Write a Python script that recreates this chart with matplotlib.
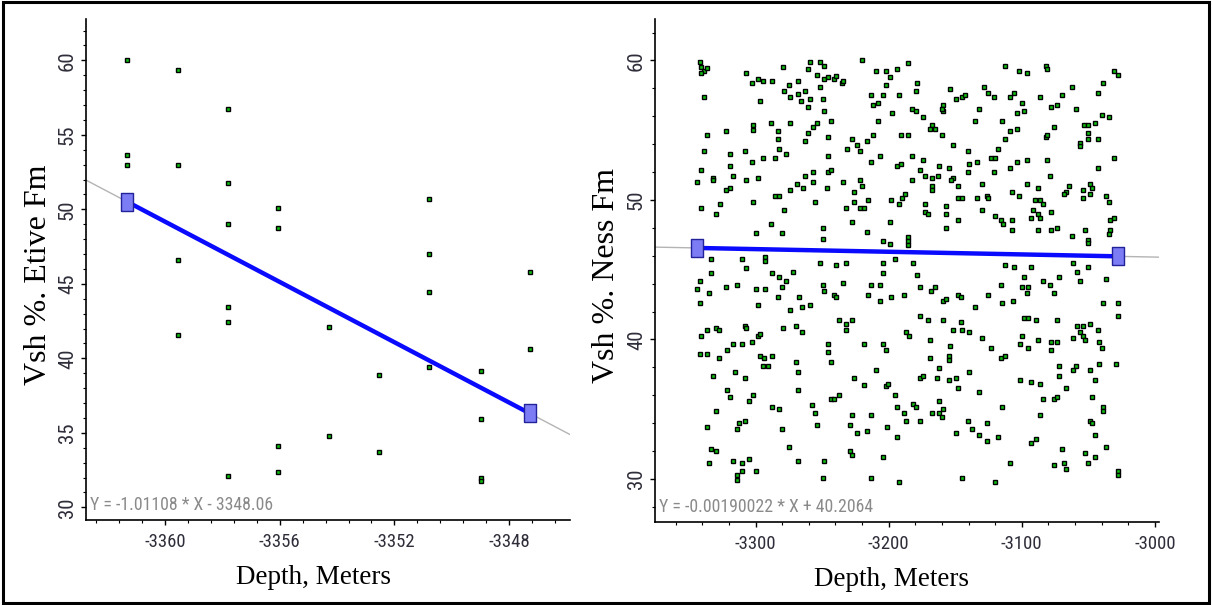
import numpy as np
import matplotlib.pyplot as plt
from matplotlib import font_manager
from matplotlib.ticker import MultipleLocator, FormatStrFormatter
from matplotlib.patches import Rectangle

plt.rcParams['axes.unicode_minus'] = False

# Etive Fm: depth (m) vs shale volume (%)
etive_points = [
    (-3361.34, 60.0), (-3361.34, 53.62), (-3361.34, 52.95),
    (-3359.56, 59.33), (-3359.56, 52.95), (-3359.56, 46.6), (-3359.56, 41.58),
    (-3357.81, 56.73), (-3357.81, 51.74), (-3357.81, 49.03), (-3357.81, 43.46),
    (-3357.81, 42.42), (-3357.81, 32.12),
    (-3356.05, 50.1), (-3356.05, 48.77), (-3356.05, 34.13), (-3356.05, 32.39),
    (-3354.30, 42.12), (-3354.30, 34.8),
    (-3352.53, 38.86), (-3352.53, 33.73),
    (-3350.79, 50.67), (-3350.79, 47.0), (-3350.79, 44.43), (-3350.79, 39.42),
    (-3348.99, 39.15), (-3348.99, 35.9), (-3348.99, 32.0), (-3348.99, 31.8),
    (-3347.27, 45.77), (-3347.27, 40.62),
]
etive_fit = (-1.01108, -3348.06)

# Ness Fm: depth (m) vs shale volume (%)
ness_points = [
    # upper part, -3350..-3265
    (-3342.0, 59.87), (-3340.8, 59.56), (-3338.5, 59.27), (-3336.5, 59.44), (-3340.8, 59.08),
    (-3279.3, 59.56), (-3307.3, 59.13), (-3298.5, 58.7), (-3303.0, 58.41), (-3294.3, 58.55),
    (-3287.8, 58.55), (-3274.8, 58.26), (-3268.3, 58.55), (-3279.0, 57.84), (-3273.8, 57.38),
    (-3268.3, 57.57), (-3338.5, 57.38), (-3296.5, 57.09), (-3288.8, 55.52), (-3273.8, 55.52),
    (-3301.8, 55.37), (-3301.8, 55.04), (-3283.5, 54.94), (-3322.3, 54.92), (-3336.5, 54.63),
    (-3283.5, 54.35), (-3282.5, 53.63), (-3338.5, 53.49), (-3308.3, 53.49), (-3319.0, 53.32),
    (-3277.0, 53.32), (-3294.3, 53.03), (-3285.5, 53.03), (-3303.0, 52.75), (-3319.0, 52.46),
    (-3340.8, 52.17), (-3317.0, 51.72), (-3332.3, 51.6), (-3332.3, 51.41), (-3344.0, 51.29),
    (-3307.3, 51.45), (-3298.5, 51.57), (-3319.0, 50.88), (-3322.3, 50.71), (-3273.8, 50.71),
    (-3269.0, 51.12), (-3285.5, 50.28), (-3282.3, 50.28), (-3326.8, 49.69), (-3340.8, 49.4),
    (-3301.8, 49.83), (-3279.0, 49.26), (-3330.0, 48.97), (-3288.8, 48.25), (-3299.5, 47.66),
    (-3280.3, 47.66), (-3333.3, 45.77), (-3310.5, 45.77), (-3293.3, 45.94), (-3293.3, 45.65),
    (-3307.3, 45.1),
    # upper part, -3265..-3185
    (-3259.4, 59.87), (-3260.4, 59.41), (-3251.9, 59.87), (-3248.7, 59.58), (-3220.4, 60.01),
    (-3254.2, 58.98), (-3248.7, 58.67), (-3245.4, 58.84), (-3240.9, 58.7), (-3239.9, 58.89),
    (-3235.4, 58.41), (-3234.4, 58.55), (-3251.9, 58.12), (-3262.9, 57.81), (-3259.4, 57.24),
    (-3265.7, 57.12), (-3249.7, 57.24), (-3260.4, 56.66), (-3248.7, 56.38), (-3209.4, 59.27),
    (-3201.9, 59.27), (-3198.9, 58.84), (-3193.4, 59.41), (-3185.4, 59.84), (-3201.9, 58.26),
    (-3213.2, 57.55), (-3204.4, 57.55), (-3192.4, 57.55), (-3207.7, 56.95), (-3211.9, 56.81),
    (-3197.7, 56.23), (-3243.2, 55.66), (-3253.9, 55.52), (-3257.2, 55.21), (-3260.4, 54.78),
    (-3262.9, 54.2), (-3245.4, 54.49), (-3207.7, 55.66), (-3211.9, 54.63), (-3216.4, 54.2),
    (-3227.2, 54.35), (-3223.7, 53.92), (-3221.7, 53.49), (-3231.4, 53.63), (-3190.4, 54.63),
    (-3185.4, 54.63), (-3245.4, 53.18), (-3206.4, 53.18), (-3213.2, 52.75), (-3193.4, 52.46),
    (-3190.4, 52.6), (-3245.4, 52.03), (-3243.2, 52.17), (-3257.2, 52.03), (-3262.9, 51.74),
    (-3257.2, 51.29), (-3264.4, 50.88), (-3246.7, 50.88), (-3234.4, 51.29), (-3221.7, 51.45),
    (-3220.4, 51.0), (-3225.9, 50.57), (-3255.4, 49.83), (-3225.9, 49.83), (-3232.4, 49.42),
    (-3221.7, 49.42), (-3218.4, 49.42), (-3215.2, 50.0), (-3197.9, 50.0), (-3192.4, 49.71),
    (-3190.2, 50.14), (-3187.9, 50.43), (-3227.2, 48.4), (-3198.9, 48.4), (-3249.7, 47.97),
    (-3249.7, 47.23), (-3216.2, 47.68), (-3204.4, 47.08), (-3198.9, 46.82), (-3185.4, 47.37),
    (-3185.4, 47.08), (-3185.4, 46.8), (-3251.9, 45.5), (-3239.9, 45.36), (-3232.4, 45.5),
    (-3204.4, 45.5), (-3195.4, 45.77),
    # upper part, -3185..-3100
    (-3112.4, 59.58), (-3102.4, 59.27), (-3178.4, 58.41), (-3179.4, 57.81), (-3153.7, 57.98),
    (-3149.2, 57.24), (-3144.9, 57.38), (-3142.7, 57.55), (-3128.7, 58.12), (-3125.4, 57.69),
    (-3121.2, 57.38), (-3109.2, 57.38), (-3105.9, 57.69), (-3182.7, 56.52), (-3179.4, 56.38),
    (-3158.9, 56.81), (-3158.9, 56.35), (-3160.2, 56.52), (-3131.9, 56.52), (-3173.9, 55.95),
    (-3167.7, 55.37), (-3168.7, 55.06), (-3165.2, 55.06), (-3159.9, 54.63), (-3135.2, 55.66),
    (-3114.7, 55.66), (-3103.9, 56.23), (-3109.2, 54.92), (-3103.9, 55.06), (-3112.4, 54.35),
    (-3151.4, 53.92), (-3140.4, 53.49), (-3117.9, 53.63), (-3182.7, 53.18), (-3173.9, 52.89),
    (-3139.4, 52.6), (-3133.9, 52.75), (-3123.2, 53.03), (-3119.9, 53.03), (-3103.9, 52.75),
    (-3109.2, 52.31), (-3162.2, 52.46), (-3154.4, 52.31), (-3176.2, 52.17), (-3172.9, 51.72),
    (-3167.7, 51.57), (-3163.2, 51.72), (-3151.4, 51.57), (-3153.4, 51.43), (-3140.4, 52.03),
    (-3121.2, 52.03), (-3182.7, 51.43), (-3147.9, 51.0), (-3129.7, 51.14), (-3167.7, 51.0),
    (-3167.7, 50.69), (-3148.2, 50.14), (-3144.9, 50.14), (-3133.9, 50.14), (-3126.4, 50.28),
    (-3125.4, 50.14), (-3107.2, 50.57), (-3102.4, 50.28), (-3172.9, 49.71), (-3156.9, 49.57),
    (-3172.9, 49.11), (-3170.7, 48.97), (-3156.9, 48.97), (-3129.7, 49.26), (-3119.9, 48.83),
    (-3115.7, 48.54), (-3114.4, 48.25), (-3107.2, 48.54), (-3147.9, 48.54), (-3156.9, 47.97),
    (-3107.2, 47.82), (-3181.9, 45.46), (-3112.4, 45.36), (-3106.2, 45.22),
    # upper part, -3100..-3025
    (-3096.1, 59.13), (-3082.1, 59.58), (-3080.8, 59.41), (-3031.1, 59.27), (-3028.1, 58.98),
    (-3062.6, 58.12), (-3038.8, 58.41), (-3043.1, 57.69), (-3070.1, 57.55), (-3086.3, 57.38),
    (-3100.1, 56.95), (-3098.3, 56.38), (-3077.8, 56.66), (-3073.6, 56.81), (-3059.3, 56.52),
    (-3039.8, 56.09), (-3034.6, 55.95), (-3045.3, 55.52), (-3053.3, 55.37), (-3050.3, 55.37),
    (-3075.8, 55.21), (-3050.6, 54.78), (-3050.6, 54.35), (-3043.1, 54.35), (-3082.1, 54.49),
    (-3080.8, 54.63), (-3056.1, 54.06), (-3056.1, 53.87), (-3096.1, 52.89), (-3081.1, 52.89),
    (-3031.1, 53.03), (-3043.1, 52.31), (-3078.8, 51.72), (-3096.1, 51.14), (-3087.6, 50.88),
    (-3089.8, 50.0), (-3086.6, 50.0), (-3084.3, 49.71), (-3064.6, 51.0), (-3066.8, 50.57),
    (-3068.1, 50.43), (-3053.8, 50.71), (-3053.8, 50.14), (-3048.6, 51.14), (-3047.1, 50.86),
    (-3048.6, 50.43), (-3036.6, 50.28), (-3034.3, 49.83), (-3091.8, 49.26), (-3087.6, 48.97),
    (-3093.1, 48.68), (-3086.1, 48.68), (-3077.8, 49.11), (-3087.6, 47.82), (-3077.8, 47.82),
    (-3073.6, 47.97), (-3062.6, 47.39), (-3052.8, 47.82), (-3050.6, 47.11), (-3050.6, 46.89),
    (-3033.6, 48.54), (-3031.1, 48.68), (-3033.6, 47.82), (-3034.6, 47.54), (-3061.6, 45.5),
    (-3092.8, 45.22), (-3050.6, 45.22),
    # lower part, -3350..-3265
    (-3333.3, 44.74), (-3287.8, 44.74), (-3282.5, 44.5), (-3271.8, 44.86), (-3276.8, 44.17),
    (-3280.0, 43.74), (-3342.0, 44.17), (-3344.0, 43.59), (-3335.3, 43.31), (-3322.3, 43.74),
    (-3313.8, 43.88), (-3299.5, 43.59), (-3293.3, 43.59), (-3283.5, 43.02), (-3267.5, 43.02),
    (-3341.8, 42.59), (-3298.5, 42.45), (-3273.8, 42.14), (-3336.5, 40.68), (-3340.8, 40.25),
    (-3330.0, 40.85), (-3327.5, 40.68), (-3308.3, 40.99), (-3307.0, 40.82), (-3279.3, 40.85),
    (-3269.5, 40.99), (-3298.5, 40.25), (-3296.5, 40.39), (-3302.8, 39.82), (-3317.0, 39.68),
    (-3310.5, 39.68), (-3321.5, 39.25), (-3341.8, 38.96), (-3336.5, 38.96), (-3327.8, 38.65),
    (-3296.5, 38.82), (-3293.5, 38.65), (-3287.8, 38.82), (-3294.3, 38.07), (-3291.0, 38.07),
    (-3269.5, 38.39), (-3268.5, 37.67), (-3315.8, 37.67), (-3332.3, 37.36), (-3308.3, 37.21),
    (-3321.5, 36.35), (-3319.0, 35.9), (-3302.0, 36.04), (-3305.0, 35.61), (-3268.5, 36.35),
    (-3287.8, 35.18), (-3282.5, 35.04), (-3330.0, 34.9), (-3336.5, 33.73), (-3312.5, 34.01),
    (-3313.8, 33.58), (-3308.3, 34.16), (-3280.3, 33.58), (-3275.0, 32.29), (-3333.3, 32.15),
    (-3330.0, 32.01), (-3335.3, 31.12), (-3317.0, 31.26), (-3310.5, 31.12), (-3310.5, 30.55),
    (-3305.0, 31.41), (-3313.8, 30.26), (-3313.8, 29.9), (-3299.5, 30.55), (-3268.5, 31.26),
    # lower part, -3265..-3185
    (-3204.4, 44.74), (-3249.7, 43.88), (-3248.7, 43.45), (-3234.7, 44.02), (-3213.2, 43.88),
    (-3206.4, 43.88), (-3241.2, 43.16), (-3239.9, 43.02), (-3215.2, 43.16), (-3206.4, 42.73),
    (-3197.9, 43.02), (-3188.2, 43.16), (-3264.9, 42.3), (-3259.4, 42.45), (-3237.7, 41.42),
    (-3232.4, 41.13), (-3232.4, 40.68), (-3227.2, 41.42), (-3264.9, 40.56), (-3186.9, 40.56),
    (-3184.9, 40.25), (-3245.4, 39.68), (-3245.4, 39.1), (-3243.4, 38.36), (-3218.4, 39.68),
    (-3204.4, 39.68), (-3201.9, 39.25), (-3209.7, 37.79), (-3225.9, 37.21), (-3218.4, 36.76),
    (-3201.9, 36.64), (-3200.9, 36.81), (-3195.4, 36.04), (-3243.2, 35.76), (-3241.2, 35.76),
    (-3237.7, 36.04), (-3257.4, 35.33), (-3255.2, 34.73), (-3253.9, 33.87), (-3227.2, 34.59),
    (-3213.2, 34.59), (-3229.2, 33.87), (-3223.7, 33.27), (-3216.2, 33.41), (-3201.2, 33.73),
    (-3193.7, 35.18), (-3188.2, 34.73), (-3186.9, 34.16), (-3193.7, 33.01), (-3229.2, 31.98),
    (-3227.2, 31.69), (-3204.4, 31.55), (-3248.7, 31.26), (-3249.7, 30.09), (-3213.2, 30.09),
    (-3192.4, 29.81),
    # lower part, -3185..-3100
    (-3178.4, 44.6), (-3176.2, 43.74), (-3168.4, 43.45), (-3165.4, 43.74), (-3158.9, 42.73),
    (-3156.7, 42.88), (-3148.2, 43.16), (-3145.9, 43.02), (-3135.2, 42.3), (-3125.4, 43.16),
    (-3115.7, 43.88), (-3114.7, 42.59), (-3106.9, 42.73), (-3176.2, 41.71), (-3170.7, 41.42),
    (-3158.9, 41.42), (-3145.9, 41.28), (-3151.4, 40.68), (-3144.9, 40.68), (-3139.4, 40.54),
    (-3129.7, 40.11), (-3123.4, 39.39), (-3168.7, 39.96), (-3153.7, 39.53), (-3168.7, 38.65),
    (-3154.4, 38.82), (-3154.4, 38.5), (-3162.2, 37.93), (-3176.2, 37.21), (-3174.2, 37.36),
    (-3163.4, 37.21), (-3154.4, 37.07), (-3149.2, 37.21), (-3139.4, 37.64), (-3147.9, 36.5),
    (-3131.9, 36.21), (-3115.7, 38.65), (-3112.4, 38.82), (-3181.9, 35.35), (-3179.4, 35.18),
    (-3176.2, 34.16), (-3167.7, 34.73), (-3162.2, 35.61), (-3162.2, 34.73), (-3160.2, 34.44),
    (-3158.9, 35.04), (-3149.2, 33.3), (-3140.4, 34.16), (-3137.2, 33.58), (-3131.9, 33.15),
    (-3126.4, 34.01), (-3126.4, 32.7), (-3117.9, 33.01), (-3114.7, 35.18), (-3109.2, 31.12),
    (-3144.9, 30.09), (-3119.9, 29.81),
    # lower part, -3100..-3025
    (-3098.3, 44.45), (-3084.3, 44.17), (-3072.3, 44.45), (-3058.3, 44.86), (-3056.1, 44.17),
    (-3036.6, 44.31), (-3078.6, 43.88), (-3100.1, 43.74), (-3095.3, 43.74), (-3096.1, 43.31),
    (-3075.6, 43.31), (-3038.8, 42.59), (-3028.1, 42.59), (-3028.1, 41.71), (-3098.3, 41.56),
    (-3095.3, 41.56), (-3089.6, 41.42), (-3073.3, 41.42), (-3058.3, 40.99), (-3053.8, 40.99),
    (-3056.1, 40.54), (-3053.8, 40.25), (-3052.8, 39.96), (-3048.6, 41.13), (-3043.1, 40.68),
    (-3042.1, 39.82), (-3039.8, 39.39), (-3061.6, 40.11), (-3100.1, 40.27), (-3101.3, 39.68),
    (-3095.1, 39.39), (-3087.6, 39.96), (-3077.8, 39.82), (-3073.3, 39.82), (-3077.8, 39.25),
    (-3072.3, 38.07), (-3072.3, 37.36), (-3061.6, 37.79), (-3059.3, 38.07), (-3048.6, 37.79),
    (-3042.1, 38.22), (-3029.1, 38.22), (-3045.3, 37.07), (-3101.3, 37.07), (-3092.8, 36.93),
    (-3086.3, 36.78), (-3066.8, 36.5), (-3084.3, 35.76), (-3075.6, 35.76), (-3073.3, 35.9),
    (-3047.3, 35.9), (-3038.8, 35.18), (-3038.8, 34.87), (-3086.3, 34.59), (-3048.6, 34.16),
    (-3047.3, 34.01), (-3045.3, 33.15), (-3036.6, 32.27), (-3092.8, 32.55), (-3089.6, 32.87),
    (-3070.1, 32.12), (-3052.8, 31.84), (-3045.3, 31.55), (-3075.6, 30.98), (-3068.1, 31.12),
    (-3066.8, 30.69), (-3050.6, 31.12), (-3028.1, 30.55), (-3028.1, 30.26),
]
ness_fit = (-0.00190022, 40.2064)

etive_depth, etive_vsh = map(np.array, zip(*etive_points))
ness_depth, ness_vsh = map(np.array, zip(*ness_points))


def first_font(*names):
    for name in names:
        try:
            font_manager.findfont(name, fallback_to_default=False)
            return name
        except ValueError:
            pass
    return None


narrow = first_font('Liberation Sans Narrow', 'Roboto Condensed', 'Arial Narrow')
if narrow:
    TICK_FONT, XTICK_SIZE, YTICK_SIZE, EQ_SIZE = [narrow, 'DejaVu Sans'], 13.5, 15.0, 12.8
else:
    TICK_FONT, XTICK_SIZE, YTICK_SIZE, EQ_SIZE = ['Liberation Sans', 'DejaVu Sans'], 11.5, 13.0, 11.5
LABEL_FONT = 'Liberation Serif'
TICK_COLOR = '#2e2e3a'

# tall rectangle used for the end points of the fitted segment
end_marker = [(-0.7, -1), (0.7, -1), (0.7, 1), (-0.7, 1), (-0.7, -1)]


def fmt_eq(slope, icpt):
    sign = '+' if icpt >= 0 else '-'
    return f"Y = {slope:g} * X {sign} {abs(icpt):g}"


def draw_panel(ax, depth, vsh, fit, xlim, ylim, xmaj, xmin_, ymaj, ymin_, ylabel):
    slope, icpt = fit
    ax.set_xlim(*xlim)
    ax.set_ylim(*ylim)

    # fitted line over full axis (thin grey) and over data span (thick blue)
    xs_full = np.array(xlim)
    ax.plot(xs_full, slope * xs_full + icpt, color='#b4b4b4', lw=1.0, zorder=1)
    xs = np.array([depth.min(), depth.max()])
    ax.plot(xs, slope * xs + icpt, color='#0a0aff', lw=3.2, zorder=2,
            solid_capstyle='butt')

    ax.plot(depth, vsh, ls='none', marker='s', ms=3.5, mfc='#10c010',
            mec='black', mew=1.0, zorder=3)

    ax.plot(xs, slope * xs + icpt, ls='none', marker=end_marker, ms=12.5,
            mfc='#7c7cf4', mec='#22229a', mew=1.0, zorder=4)

    for side in ('top', 'right'):
        ax.spines[side].set_visible(False)
    for side in ('left', 'bottom'):
        ax.spines[side].set_linewidth(1.2)
        ax.spines[side].set_color('black')

    ax.xaxis.set_major_locator(MultipleLocator(xmaj))
    ax.xaxis.set_minor_locator(MultipleLocator(xmin_))
    ax.yaxis.set_major_locator(MultipleLocator(ymaj))
    ax.yaxis.set_minor_locator(MultipleLocator(ymin_))
    ax.xaxis.set_major_formatter(FormatStrFormatter('%d'))
    ax.yaxis.set_major_formatter(FormatStrFormatter('%d'))

    ax.tick_params(which='major', length=3.5, width=1.0, color='black',
                   labelcolor=TICK_COLOR)
    ax.tick_params(axis='x', which='major', pad=6, labelsize=XTICK_SIZE)
    ax.tick_params(axis='y', which='major', pad=3, labelsize=YTICK_SIZE)
    ax.tick_params(which='minor', length=2.0, width=0.8, color='black')
    for lab in ax.get_xticklabels() + ax.get_yticklabels():
        lab.set_family(TICK_FONT)
    for lab in ax.get_yticklabels():
        lab.set_rotation(90)
        lab.set_va('center')

    ax.set_xlabel('Depth, Meters', fontfamily=LABEL_FONT, fontsize=19.5, va='center')
    ax.set_ylabel(ylabel, fontfamily=LABEL_FONT, fontsize=23, va='center')
    h = ax.get_position().height * fig.get_figheight() * fig.dpi
    w = ax.get_position().width * fig.get_figwidth() * fig.dpi
    ax.xaxis.set_label_coords(0.47, -58 / h)
    ax.yaxis.set_label_coords(-48 / w, 0.49)

    ax.text(4 / w, 15 / h, fmt_eq(slope, icpt), transform=ax.transAxes,
            family=TICK_FONT, fontsize=EQ_SIZE, color='#8a8a8a',
            ha='left', va='center')


fig = plt.figure(figsize=(12.12, 6.05), dpi=100)
ax1 = fig.add_axes([0.0710, 0.1405, 0.3989, 0.828])
ax2 = fig.add_axes([0.5404, 0.1372, 0.4158, 0.8314])

draw_panel(ax1, etive_depth, etive_vsh, etive_fit,
           (-3362.76, -3345.89), (29.15, 62.77), 4, 0.8, 5, 1,
           'Vsh %. Etive Fm')
draw_panel(ax2, ness_depth, ness_vsh, ness_fit,
           (-3375.6, -2997.0), (26.92, 62.97), 100, 20, 10, 2,
           'Vsh %. Ness Fm')

# frame around the whole figure
fig.add_artist(Rectangle((0.0025, 0.004), 0.995, 0.992, transform=fig.transFigure,
                         fill=False, ec='black', lw=2.2))

fig.savefig('out.png', dpi=100)
